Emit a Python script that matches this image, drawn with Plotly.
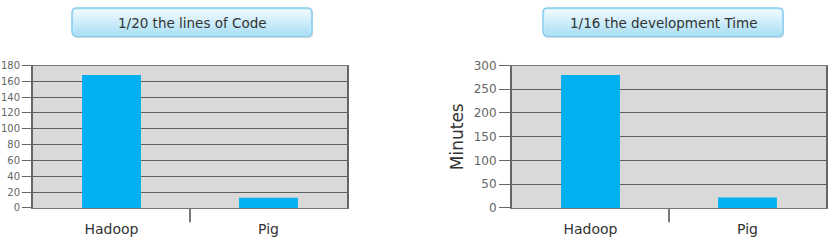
import plotly.graph_objects as go

W, H = 831, 248

categories = ["Hadoop", "Pig"]
lines_of_code = [168, 13]
dev_minutes = [280, 22]
left_ticks = [0, 20, 40, 60, 80, 100, 120, 140, 160, 180]
right_ticks = [0, 50, 100, 150, 200, 250, 300]
titles = ["1/20 the lines of Code", "1/16 the development Time"]


def px(x):
    return x / W


def py(y):
    return 1 - y / H


BAR = "#00b0f0"
fig = go.Figure()
fig.add_trace(go.Bar(x=categories, y=lines_of_code, marker_color=BAR,
                     marker_line_width=0, xaxis="x", yaxis="y", showlegend=False))
fig.add_trace(go.Bar(x=categories, y=dev_minutes, marker_color=BAR,
                     marker_line_width=0, xaxis="x2", yaxis="y2", showlegend=False))

ydom = [py(213), py(62)]
common_x = dict(showgrid=False, ticks="", showline=True, linecolor="#777",
                linewidth=1, mirror=True, ticklabelstandoff=8,
                tickfont=dict(family="DejaVu Sans", size=14, color="#333"),
                fixedrange=True)
common_y = dict(showgrid=True, gridcolor="#5e5e5e", gridwidth=1, showline=True,
                linecolor="#666", linewidth=2, mirror=True, ticks="outside",
                tickcolor="#666", zeroline=False, fixedrange=True)

fig.update_layout(
    width=W, height=H, margin=dict(l=0, r=0, t=0, b=0),
    paper_bgcolor="white", plot_bgcolor="#d9d9d9", bargap=0.625,
    xaxis=dict(domain=[px(33), px(347)], anchor="y", **common_x),
    xaxis2=dict(domain=[px(512), px(826)], anchor="y2", **common_x),
    yaxis=dict(domain=ydom, anchor="x", range=[0, 180], tickvals=left_ticks,
               ticklen=9, tickfont=dict(family="DejaVu Sans", size=10, color="#666"),
               **common_y),
    yaxis2=dict(domain=ydom, anchor="x2", range=[0, 300], tickvals=right_ticks,
                ticklen=11, tickfont=dict(family="DejaVu Sans", size=12, color="#666"),
                title=dict(text="Minutes", font=dict(family="DejaVu Sans", size=17, color="#333"),
                           standoff=6),
                **common_y),
)

shapes = []
annotations = []


def rounded(x0, y0, x1, y1, r):
    return (f"M {px(x0 + r)} {py(y0)} L {px(x1 - r)} {py(y0)} "
            f"Q {px(x1)} {py(y0)} {px(x1)} {py(y0 + r)} L {px(x1)} {py(y1 - r)} "
            f"Q {px(x1)} {py(y1)} {px(x1 - r)} {py(y1)} L {px(x0 + r)} {py(y1)} "
            f"Q {px(x0)} {py(y1)} {px(x0)} {py(y1 - r)} L {px(x0)} {py(y0 + r)} "
            f"Q {px(x0)} {py(y0)} {px(x0 + r)} {py(y0)} Z")


def lerp(c1, c2, t):
    return "#" + "".join(f"{round(a + (b - a) * t):02x}" for a, b in zip(c1, c2))


top_c = (0xee, 0xf9, 0xfe)
bot_c = (0xae, 0xe1, 0xf6)
for (x0, x1), text in zip([(72, 312), (543, 783)], titles):
    y0, y1 = 1, 31
    shapes.append(dict(type="path", path=rounded(x0 + 1, y0 + 2, x1 + 1, y1 + 2, 5),
                       xref="paper", yref="paper", fillcolor="#d8dde0", line=dict(width=0)))
    shapes.append(dict(type="path", path=rounded(x0, y0, x1, y1, 5), xref="paper",
                       yref="paper", fillcolor=lerp(top_c, bot_c, 0.5), line=dict(width=0)))
    n = 12
    band_top, band_bot = y0 + 2, y1 - 2
    step = (band_bot - band_top) / n
    for i in range(n):
        shapes.append(dict(type="rect", xref="paper", yref="paper",
                           x0=px(x0 + 1.5), x1=px(x1 - 1.5),
                           y0=py(band_top + i * step), y1=py(band_top + (i + 1) * step + 0.5),
                           fillcolor=lerp(top_c, bot_c, i / (n - 1)), line=dict(width=0)))
    shapes.append(dict(type="path", path=rounded(x0, y0, x1, y1, 5), xref="paper",
                       yref="paper", fillcolor="rgba(0,0,0,0)", line=dict(color="#86cdee", width=1.5)))
    annotations.append(dict(text=text, x=px((x0 + x1) / 2), y=py(17), xref="paper",
                            yref="paper", showarrow=False, xanchor="center", yanchor="middle",
                            font=dict(family="DejaVu Sans", size=13.5, color="#333")))

# category separator ticks
for xr in ["x", "x2"]:
    shapes.append(dict(type="line", xref=xr, yref="paper", x0=0.5, x1=0.5,
                       y0=py(213), y1=py(228), line=dict(color="#777", width=2)))

fig.update_layout(shapes=shapes, annotations=annotations)
fig.write_html("out.html")
